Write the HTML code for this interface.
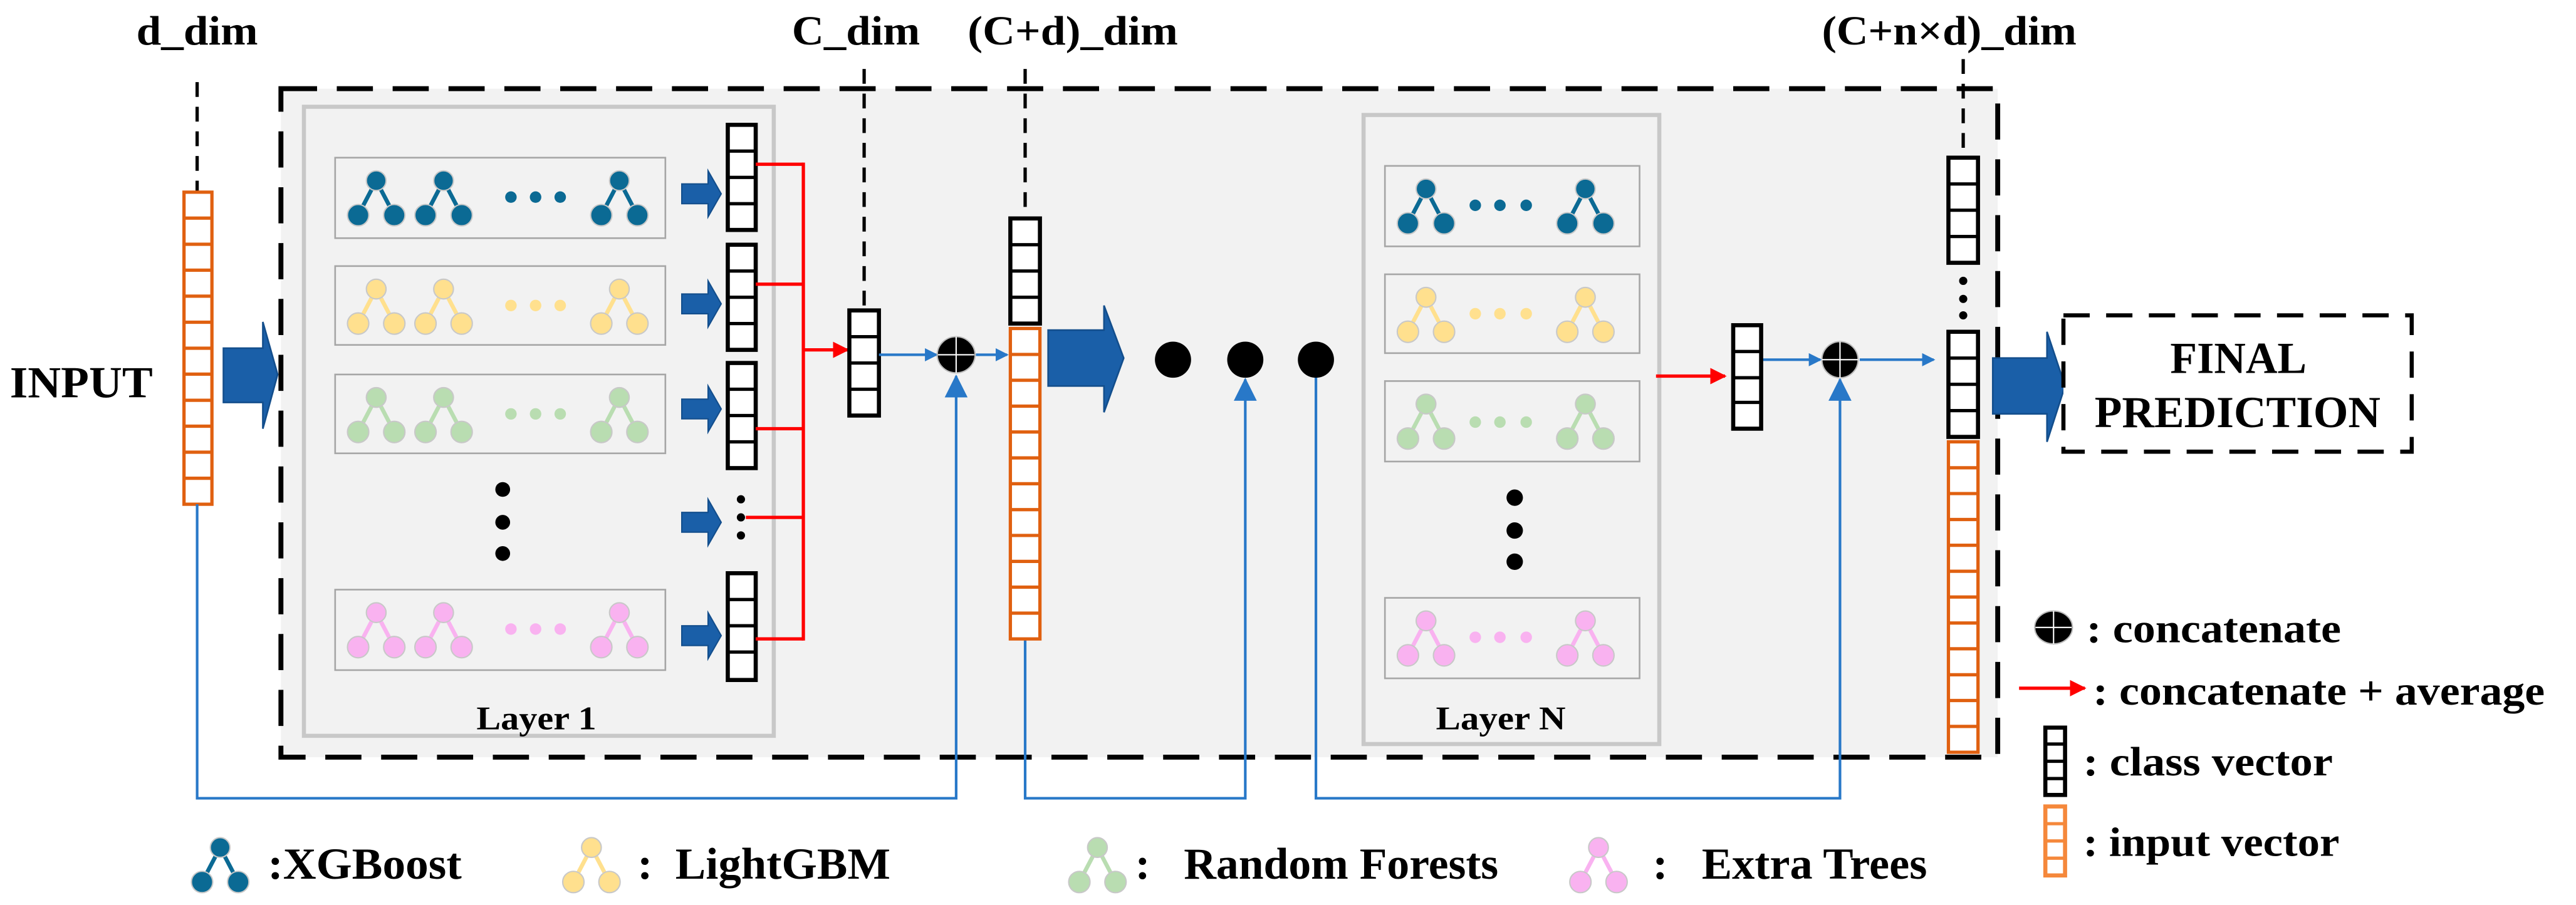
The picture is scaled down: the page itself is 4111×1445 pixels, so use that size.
<!DOCTYPE html>
<html><head><meta charset="utf-8"><style>
html,body{margin:0;padding:0;background:#fff;}
svg{display:block;}
text{font-family:"Liberation Serif",serif;font-weight:bold;fill:#000;}
</style></head><body>
<svg width="4111" height="1445" viewBox="0 0 1568 551" preserveAspectRatio="none" xmlns="http://www.w3.org/2000/svg">
<defs>
<g id="tree">
<line x1="0" y1="0" x2="-11" y2="21" stroke="currentColor" stroke-width="2.5"/>
<line x1="0" y1="0" x2="11" y2="21" stroke="currentColor" stroke-width="2.5"/>
<circle cx="0" cy="0" r="6" fill="currentColor" stroke="#c8c8c8" stroke-width="0.8"/>
<circle cx="-11" cy="21" r="6.5" fill="currentColor" stroke="#c8c8c8" stroke-width="0.8"/>
<circle cx="11" cy="21" r="6.5" fill="currentColor" stroke="#c8c8c8" stroke-width="0.8"/>
</g>
<marker id="ab" markerWidth="8" markerHeight="8" refX="7" refY="4" orient="auto" markerUnits="userSpaceOnUse"><path d="M0,0 L8,4 L0,8z" fill="#2878c8"/></marker>
<marker id="abu" markerWidth="14" markerHeight="14" refX="13" refY="7" orient="auto" markerUnits="userSpaceOnUse"><path d="M0,0 L14,7 L0,14z" fill="#2878c8"/></marker>
<marker id="ar" markerWidth="10" markerHeight="10" refX="9" refY="5" orient="auto" markerUnits="userSpaceOnUse"><path d="M0,0 L10,5 L0,10z" fill="#ff0000"/></marker>
</defs>

<rect x="171" y="54" width="1045" height="407" fill="#f2f2f2" stroke="#000" stroke-width="3" stroke-dasharray="22,12"/>

<text x="83" y="27" font-size="25" textLength="74" lengthAdjust="spacingAndGlyphs">d_dim</text>
<text x="482" y="27" font-size="25" textLength="78" lengthAdjust="spacingAndGlyphs">C_dim</text>
<text x="589" y="27" font-size="25" textLength="128" lengthAdjust="spacingAndGlyphs">(C+d)_dim</text>
<text x="1109" y="27" font-size="25" textLength="155" lengthAdjust="spacingAndGlyphs">(C+n×d)_dim</text>
<g stroke="#000" stroke-width="2" stroke-dasharray="9,6" fill="none">
<line x1="120" y1="50" x2="120" y2="117"/>
<line x1="526" y1="42" x2="526" y2="189"/>
<line x1="624" y1="42" x2="624" y2="133"/>
<line x1="1195" y1="36" x2="1195" y2="96"/>
</g>

<text x="6" y="242" font-size="27" textLength="87" lengthAdjust="spacingAndGlyphs">INPUT</text>
<rect x="112" y="117" width="17" height="190" fill="#fff" stroke="#e06010" stroke-width="2"/>
<g stroke="#e06010" stroke-width="2">
<line x1="112" y1="132.8" x2="129" y2="132.8"/><line x1="112" y1="148.7" x2="129" y2="148.7"/><line x1="112" y1="164.5" x2="129" y2="164.5"/><line x1="112" y1="180.3" x2="129" y2="180.3"/><line x1="112" y1="196.2" x2="129" y2="196.2"/><line x1="112" y1="212" x2="129" y2="212"/><line x1="112" y1="227.8" x2="129" y2="227.8"/><line x1="112" y1="243.7" x2="129" y2="243.7"/><line x1="112" y1="259.5" x2="129" y2="259.5"/><line x1="112" y1="275.3" x2="129" y2="275.3"/><line x1="112" y1="291.2" x2="129" y2="291.2"/>
</g>
<polygon points="136,212 160,212 160,196 169,228 160,261 160,245 136,245" fill="#1a5fa8" stroke="#134e8c" stroke-width="1"/>

<rect x="185" y="65" width="286" height="383" fill="#f2f2f2" stroke="#c8c8c8" stroke-width="2.5"/>
<g fill="#f2f2f2" stroke="#a6a6a6" stroke-width="1">
<rect x="204" y="96" width="201" height="49"/><rect x="204" y="162" width="201" height="48"/><rect x="204" y="228" width="201" height="48"/><rect x="204" y="359" width="201" height="49"/>
</g>
<g style="color:#0b6a94"><use href="#tree" x="229" y="110"/><use href="#tree" x="270" y="110"/><use href="#tree" x="377" y="110"/>
<circle cx="311" cy="120" r="3.5" fill="#0b6a94"/><circle cx="326" cy="120" r="3.5" fill="#0b6a94"/><circle cx="341" cy="120" r="3.5" fill="#0b6a94"/></g>
<g style="color:#ffe08e"><use href="#tree" x="229" y="176"/><use href="#tree" x="270" y="176"/><use href="#tree" x="377" y="176"/>
<circle cx="311" cy="186" r="3.5" fill="#ffe08e"/><circle cx="326" cy="186" r="3.5" fill="#ffe08e"/><circle cx="341" cy="186" r="3.5" fill="#ffe08e"/></g>
<g style="color:#b9ddb1"><use href="#tree" x="229" y="242"/><use href="#tree" x="270" y="242"/><use href="#tree" x="377" y="242"/>
<circle cx="311" cy="252" r="3.5" fill="#b9ddb1"/><circle cx="326" cy="252" r="3.5" fill="#b9ddb1"/><circle cx="341" cy="252" r="3.5" fill="#b9ddb1"/></g>
<g style="color:#f9b2f0"><use href="#tree" x="229" y="373"/><use href="#tree" x="270" y="373"/><use href="#tree" x="377" y="373"/>
<circle cx="311" cy="383" r="3.5" fill="#f9b2f0"/><circle cx="326" cy="383" r="3.5" fill="#f9b2f0"/><circle cx="341" cy="383" r="3.5" fill="#f9b2f0"/></g>
<circle cx="306" cy="298" r="4.5" fill="#000"/><circle cx="306" cy="318" r="4.5" fill="#000"/><circle cx="306" cy="337" r="4.5" fill="#000"/>
<text x="290" y="444" font-size="20" textLength="73" lengthAdjust="spacingAndGlyphs">Layer 1</text>

<g fill="#1a5fa8" stroke="#134e8c" stroke-width="0.8">
<polygon points="415,112 431,112 431,104 439,118 431,132 431,124 415,124"/>
<polygon points="415,179 431,179 431,171 439,185 431,199 431,191 415,191"/>
<polygon points="415,243 431,243 431,235 439,249 431,263 431,255 415,255"/>
<polygon points="415,312 431,312 431,304 439,318 431,332 431,324 415,324"/>
<polygon points="415,381 431,381 431,373 439,387 431,401 431,393 415,393"/>
</g>
<g fill="#fff" stroke="#000" stroke-width="2.5">
<rect x="443" y="76" width="17" height="64"/><rect x="443" y="149" width="17" height="64"/><rect x="443" y="221" width="17" height="64"/><rect x="443" y="349" width="17" height="65"/>
</g>
<g stroke="#000" stroke-width="2">
<line x1="443" y1="92" x2="460" y2="92"/><line x1="443" y1="108" x2="460" y2="108"/><line x1="443" y1="124" x2="460" y2="124"/>
<line x1="443" y1="165" x2="460" y2="165"/><line x1="443" y1="181" x2="460" y2="181"/><line x1="443" y1="197" x2="460" y2="197"/>
<line x1="443" y1="237" x2="460" y2="237"/><line x1="443" y1="253" x2="460" y2="253"/><line x1="443" y1="269" x2="460" y2="269"/>
<line x1="443" y1="365" x2="460" y2="365"/><line x1="443" y1="381" x2="460" y2="381"/><line x1="443" y1="397" x2="460" y2="397"/>
</g>
<circle cx="451" cy="304" r="2.5" fill="#000"/><circle cx="451" cy="315" r="2.5" fill="#000"/><circle cx="451" cy="326" r="2.5" fill="#000"/>
<g stroke="#ff0000" stroke-width="2" fill="none">
<line x1="460" y1="100" x2="489" y2="100"/><line x1="460" y1="173" x2="489" y2="173"/><line x1="460" y1="261" x2="489" y2="261"/><line x1="454" y1="315" x2="489" y2="315"/><line x1="460" y1="389" x2="489" y2="389"/>
<line x1="489" y1="99" x2="489" y2="390"/>
<line x1="489" y1="213" x2="516" y2="213" marker-end="url(#ar)"/>
</g>
<rect x="517" y="189" width="18" height="64" fill="#fff" stroke="#000" stroke-width="2.5"/>
<g stroke="#000" stroke-width="2"><line x1="517" y1="205" x2="535" y2="205"/><line x1="517" y1="221" x2="535" y2="221"/><line x1="517" y1="237" x2="535" y2="237"/></g>
<g stroke="#2878c8" stroke-width="1.6" fill="none">
<line x1="535" y1="216" x2="570" y2="216" marker-end="url(#ab)"/>
<line x1="594" y1="216" x2="613" y2="216" marker-end="url(#ab)"/>
<polyline points="120,307 120,486 582,486 582,229" marker-end="url(#abu)"/>
<polyline points="624,389 624,486 758,486 758,231" marker-end="url(#abu)"/>
<polyline points="801,219 801,486 1120,486 1120,231" marker-end="url(#abu)"/>
<line x1="1072" y1="219" x2="1108" y2="219" marker-end="url(#ab)"/>
<line x1="1132" y1="219" x2="1177" y2="219" marker-end="url(#ab)"/>
</g>
<ellipse cx="582" cy="216" rx="11.5" ry="11" fill="#000" stroke="#bbb" stroke-width="0.8"/>
<line x1="571" y1="216" x2="593" y2="216" stroke="#fff" stroke-width="0.8"/><line x1="582" y1="205" x2="582" y2="227" stroke="#fff" stroke-width="0.8"/>

<rect x="615" y="133" width="18" height="64" fill="#fff" stroke="#000" stroke-width="2.5"/>
<g stroke="#000" stroke-width="2"><line x1="615" y1="149" x2="633" y2="149"/><line x1="615" y1="165" x2="633" y2="165"/><line x1="615" y1="181" x2="633" y2="181"/></g>
<rect x="615" y="200" width="18" height="189" fill="#fff" stroke="#e06010" stroke-width="2"/>
<g stroke="#e06010" stroke-width="2">
<line x1="615" y1="215.8" x2="633" y2="215.8"/><line x1="615" y1="231.5" x2="633" y2="231.5"/><line x1="615" y1="247.3" x2="633" y2="247.3"/><line x1="615" y1="263" x2="633" y2="263"/><line x1="615" y1="278.8" x2="633" y2="278.8"/><line x1="615" y1="294.5" x2="633" y2="294.5"/><line x1="615" y1="310.3" x2="633" y2="310.3"/><line x1="615" y1="326" x2="633" y2="326"/><line x1="615" y1="341.8" x2="633" y2="341.8"/><line x1="615" y1="357.5" x2="633" y2="357.5"/><line x1="615" y1="373.3" x2="633" y2="373.3"/>
</g>
<polygon points="638,201 672,201 672,186 684,218 672,251 672,235 638,235" fill="#1a5fa8" stroke="#134e8c" stroke-width="1"/>
<circle cx="714" cy="219" r="11" fill="#000"/><circle cx="758" cy="219" r="11" fill="#000"/><circle cx="801" cy="219" r="11" fill="#000"/>

<rect x="830" y="70" width="180" height="383" fill="#f2f2f2" stroke="#c8c8c8" stroke-width="2.5"/>
<g fill="#f2f2f2" stroke="#a6a6a6" stroke-width="1">
<rect x="843" y="101" width="155" height="49"/><rect x="843" y="167" width="155" height="48"/><rect x="843" y="232" width="155" height="49"/><rect x="843" y="364" width="155" height="49"/>
</g>
<g style="color:#0b6a94"><use href="#tree" x="868" y="115"/><use href="#tree" x="965" y="115"/>
<circle cx="898" cy="125" r="3.5" fill="#0b6a94"/><circle cx="913" cy="125" r="3.5" fill="#0b6a94"/><circle cx="929" cy="125" r="3.5" fill="#0b6a94"/></g>
<g style="color:#ffe08e"><use href="#tree" x="868" y="181"/><use href="#tree" x="965" y="181"/>
<circle cx="898" cy="191" r="3.5" fill="#ffe08e"/><circle cx="913" cy="191" r="3.5" fill="#ffe08e"/><circle cx="929" cy="191" r="3.5" fill="#ffe08e"/></g>
<g style="color:#b9ddb1"><use href="#tree" x="868" y="246"/><use href="#tree" x="965" y="246"/>
<circle cx="898" cy="257" r="3.5" fill="#b9ddb1"/><circle cx="913" cy="257" r="3.5" fill="#b9ddb1"/><circle cx="929" cy="257" r="3.5" fill="#b9ddb1"/></g>
<g style="color:#f9b2f0"><use href="#tree" x="868" y="378"/><use href="#tree" x="965" y="378"/>
<circle cx="898" cy="388" r="3.5" fill="#f9b2f0"/><circle cx="913" cy="388" r="3.5" fill="#f9b2f0"/><circle cx="929" cy="388" r="3.5" fill="#f9b2f0"/></g>
<circle cx="922" cy="303" r="5" fill="#000"/><circle cx="922" cy="323" r="5" fill="#000"/><circle cx="922" cy="342" r="5" fill="#000"/>
<text x="874" y="444" font-size="20" textLength="79" lengthAdjust="spacingAndGlyphs">Layer N</text>

<line x1="1008" y1="229" x2="1050" y2="229" stroke="#ff0000" stroke-width="2" marker-end="url(#ar)"/>
<rect x="1055" y="198" width="17" height="63" fill="#fff" stroke="#000" stroke-width="2.5"/>
<g stroke="#000" stroke-width="2"><line x1="1055" y1="214" x2="1072" y2="214"/><line x1="1055" y1="230" x2="1072" y2="230"/><line x1="1055" y1="245" x2="1072" y2="245"/></g>
<ellipse cx="1120" cy="219" rx="11" ry="11" fill="#000" stroke="#bbb" stroke-width="0.8"/>
<line x1="1109" y1="219" x2="1131" y2="219" stroke="#fff" stroke-width="0.8"/><line x1="1120" y1="208" x2="1120" y2="230" stroke="#fff" stroke-width="0.8"/>

<rect x="1186" y="96" width="18" height="64" fill="#fff" stroke="#000" stroke-width="2.5"/>
<g stroke="#000" stroke-width="2"><line x1="1186" y1="112" x2="1204" y2="112"/><line x1="1186" y1="128" x2="1204" y2="128"/><line x1="1186" y1="144" x2="1204" y2="144"/></g>
<circle cx="1195" cy="171" r="2.5" fill="#000"/><circle cx="1195" cy="182" r="2.5" fill="#000"/><circle cx="1195" cy="192" r="2.5" fill="#000"/>
<rect x="1186" y="202" width="18" height="64" fill="#fff" stroke="#000" stroke-width="2.5"/>
<g stroke="#000" stroke-width="2"><line x1="1186" y1="218" x2="1204" y2="218"/><line x1="1186" y1="234" x2="1204" y2="234"/><line x1="1186" y1="250" x2="1204" y2="250"/></g>
<rect x="1186" y="269" width="18" height="189" fill="#fff" stroke="#e06010" stroke-width="2"/>
<g stroke="#e06010" stroke-width="2">
<line x1="1186" y1="284.8" x2="1204" y2="284.8"/><line x1="1186" y1="300.5" x2="1204" y2="300.5"/><line x1="1186" y1="316.3" x2="1204" y2="316.3"/><line x1="1186" y1="332" x2="1204" y2="332"/><line x1="1186" y1="347.8" x2="1204" y2="347.8"/><line x1="1186" y1="363.5" x2="1204" y2="363.5"/><line x1="1186" y1="379.3" x2="1204" y2="379.3"/><line x1="1186" y1="395" x2="1204" y2="395"/><line x1="1186" y1="410.8" x2="1204" y2="410.8"/><line x1="1186" y1="426.5" x2="1204" y2="426.5"/><line x1="1186" y1="442.3" x2="1204" y2="442.3"/>
</g>

<polygon points="1213,218 1246,218 1246,202 1257,235 1246,269 1246,252 1213,252" fill="#1a5fa8" stroke="#134e8c" stroke-width="1"/>
<rect x="1256" y="192" width="212" height="83" fill="#fff" stroke="#000" stroke-width="2.5" stroke-dasharray="16,10"/>
<text x="1321" y="227" font-size="27" textLength="83" lengthAdjust="spacingAndGlyphs">FINAL</text>
<text x="1275" y="260" font-size="27" textLength="174" lengthAdjust="spacingAndGlyphs">PREDICTION</text>

<ellipse cx="1250" cy="382" rx="11.5" ry="10" fill="#000" stroke="#bbb" stroke-width="0.8"/>
<line x1="1239" y1="382" x2="1261" y2="382" stroke="#fff" stroke-width="0.8"/><line x1="1250" y1="372" x2="1250" y2="392" stroke="#fff" stroke-width="0.8"/>
<text x="1270" y="391" font-size="25" textLength="155" lengthAdjust="spacingAndGlyphs">: concatenate</text>
<line x1="1229" y1="419" x2="1269" y2="419" stroke="#ff0000" stroke-width="2" marker-end="url(#ar)"/>
<text x="1274" y="429" font-size="25" textLength="275" lengthAdjust="spacingAndGlyphs">: concatenate + average</text>
<rect x="1245" y="443" width="12" height="41" fill="#fff" stroke="#000" stroke-width="2.5"/>
<g stroke="#000" stroke-width="2"><line x1="1245" y1="453" x2="1257" y2="453"/><line x1="1245" y1="463.5" x2="1257" y2="463.5"/><line x1="1245" y1="474" x2="1257" y2="474"/></g>
<text x="1268" y="472" font-size="25" textLength="152" lengthAdjust="spacingAndGlyphs">: class vector</text>
<rect x="1245" y="491" width="12" height="42" fill="#fff" stroke="#f5883b" stroke-width="2.5"/>
<g stroke="#f5883b" stroke-width="2"><line x1="1245" y1="501.5" x2="1257" y2="501.5"/><line x1="1245" y1="512" x2="1257" y2="512"/><line x1="1245" y1="522.5" x2="1257" y2="522.5"/></g>
<text x="1268" y="521" font-size="25" textLength="156" lengthAdjust="spacingAndGlyphs">: input vector</text>

<g style="color:#0b6a94"><use href="#tree" x="134" y="516"/></g>
<text x="163" y="535" font-size="27" textLength="118" lengthAdjust="spacingAndGlyphs">:XGBoost</text>
<g style="color:#ffe08e"><use href="#tree" x="360" y="516"/></g>
<text x="388" y="535" font-size="27" textLength="154" lengthAdjust="spacingAndGlyphs" xml:space="preserve">:  LightGBM</text>
<g style="color:#b9ddb1"><use href="#tree" x="668" y="516"/></g>
<text x="691" y="535" font-size="27" textLength="221" lengthAdjust="spacingAndGlyphs" xml:space="preserve">:   Random Forests</text>
<g style="color:#f9b2f0"><use href="#tree" x="973" y="516"/></g>
<text x="1006" y="535" font-size="27" textLength="167" lengthAdjust="spacingAndGlyphs" xml:space="preserve">:   Extra Trees</text>
</svg>
</body></html>
